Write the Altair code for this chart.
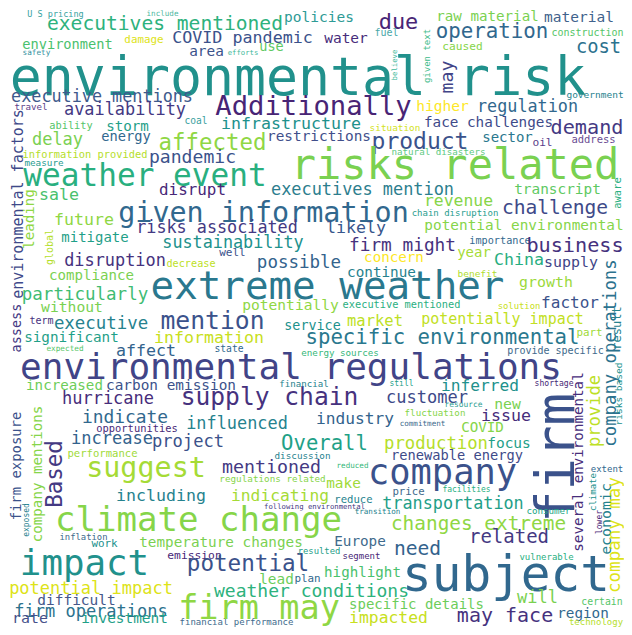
import altair as alt
import pandas as pd

# word, x-centre, y-centre (image pixels), font size, angle, colour
words = [
    "U S pricing", "include", "executives mentioned", "environment", "damage", "safety",
    "COVID pandemic", "area", "environmental risk", "executive mentions", "availability", "travel",
    "environmental factors", "assess", "ability", "storm", "coal", "energy", "delay", "affected",
    "information provided", "pandemic", "policies", "due", "water", "use", "fuel", "efforts",
    "believe", "Additionally", "higher", "infrastructure", "situation", "restrictions", "product",
    "natural disasters", "raw material", "material", "operation", "construction", "cost", "caused",
    "given text", "may", "government", "regulation", "face challenges", "demand", "sector", "oil",
    "address", "risks related", "measure", "weather event", "leading", "sale", "disrupt",
    "given information", "future", "global", "risks associated", "mitigate", "sustainability",
    "disruption", "decrease", "well", "compliance", "particularly", "without", "extreme weather",
    "executive", "mention", "executives mention", "likely", "firm might", "possible", "concern",
    "continue", "potentially", "executive mentioned", "market", "chain disruption", "transcript",
    "aware", "revenue", "challenge", "potential environmental", "importance", "year", "business",
    "China", "supply", "benefit", "growth", "company operations", "result", "risks based", "factor",
    "solution", "potentially impact", "term", "information", "significant", "expected", "affect",
    "environmental regulations", "increased", "carbon emission", "hurricane", "supply chain",
    "indicate", "influenced", "opportunities", "firm exposure", "company mentions", "Based",
    "increase", "project", "performance", "suggest", "service", "specific environmental", "state",
    "energy sources", "financial", "still", "customer", "industry", "fluctuation", "resource",
    "commitment", "Overall", "production", "focus", "renewable energy", "discussion", "mentioned",
    "reduced", "company", "new", "issue", "COVID", "inferred", "provide specific", "part",
    "shortage", "several environmental", "provide", "firm", "extent", "exposed", "including",
    "climate change", "inflation", "work", "temperature changes", "emission", "impact", "potential",
    "potential impact", "difficult", "firm operations", "rate", "investment", "financial performance",
    "firm may", "regulations related", "make", "indicating", "reduce", "price",
    "following environmental", "transition", "transportation", "facilities", "changes extreme",
    "consumer", "related", "need", "Europe", "resulted", "segment", "lead", "plan", "highlight",
    "weather conditions", "specific details", "impacted", "subject", "vulnerable", "will", "certain",
    "may face", "region", "technology", "economic", "climate", "lower", "company may",
]

xs = [
    55.5, 162.5, 165, 67.5, 144, 36.5,
    242.5, 206.5, 298, 102, 125, 31,
    17.5, 17, 71, 127.5, 196, 126, 57.5, 212.5,
    85, 192.5, 319, 398.5, 346, 271.5, 386.5, 243,
    395, 313.5, 442.5, 291, 395, 319, 420,
    438.5, 487.5, 579, 492, 587.5, 598.5, 462.5,
    427, 448, 595, 527.5, 488.5, 587, 507.5, 542.5,
    593.5, 455, 44, 145, 30, 59, 192.5,
    263.5, 84, 50, 217, 95, 233,
    115, 191, 232.5, 91.5, 85, 72, 327.5,
    101, 212.5, 362.5, 356, 402.5, 299, 394,
    381.5, 290.5, 401.5, 375, 455, 557.5,
    618, 458.5, 555, 524, 500, 474, 575,
    519, 571, 477.5, 546, 611, 617, 618.5, 570,
    519, 502.5, 41.5, 209, 71.5, 65, 146,
    291, 64.5, 171, 108, 269.5,
    125, 237, 137, 17, 38, 55,
    112, 188, 102.5, 146, 312.5, 442.5, 229,
    340, 304, 401.5, 427, 355, 435, 463.5,
    422.5, 324.5, 436, 509, 457, 302.5, 271.5,
    352.5, 442.5, 507.5, 506, 482.5, 480, 555.5, 589.5,
    554, 579, 595, 558, 607, 27, 161,
    198.5, 83.5, 104.5, 221, 194.5, 84.5, 248,
    91, 76.5, 91, 30, 124.5, 236.5,
    259, 272.5, 343.5, 280, 353.5, 408.5,
    314.5, 377.5, 453, 466.5, 478.5,
    548.5, 509, 417.5, 360, 319, 361.5, 276.5, 307.5, 362.5,
    311.5, 416.5, 388.5, 506, 546.5, 537.5, 602,
    505, 583, 596, 607, 593, 600, 614.5,
]

ys = [
    14, 14, 24, 45, 40, 53,
    38, 52, 79, 97, 110, 107,
    204, 328, 126, 127, 121, 137, 140, 143,
    155, 158, 18, 22, 39, 47, 33, 53,
    65, 107, 107, 124, 128, 137, 142,
    152, 17, 18, 32, 33, 47, 47,
    56, 77, 95, 107, 123, 128, 138, 143,
    140, 166, 163, 177, 219, 195, 190,
    213, 220, 247, 228, 238, 243,
    261, 264, 253, 276, 295, 308, 287,
    324, 322, 190, 228, 246, 263, 258,
    273, 306, 305, 321, 213, 190,
    193, 201, 208, 226, 241, 253, 246,
    260, 263, 274, 283, 353, 328, 394, 303,
    306, 319, 321, 338, 338, 349, 351,
    368, 386, 386, 399, 398,
    418, 424, 429, 466, 474, 474,
    439, 442, 454, 468, 326, 338, 349,
    353, 384, 384, 398, 419, 413, 405,
    424, 444, 444, 444, 456, 456, 468,
    466, 473, 405, 416, 428, 386, 351, 333,
    384, 462, 411, 458, 469, 520, 496,
    521, 537, 544, 543, 556, 564, 564,
    589, 601, 612, 619, 619, 622,
    609, 479, 484, 496, 500, 492,
    507, 512, 504, 490, 524,
    511, 537, 549, 542, 551, 556, 580, 579, 573,
    592, 605, 618, 576, 557, 598, 602,
    616, 614, 622, 519, 492, 522, 535,
]

sizes = [
    8.5, 7.6, 19.6, 13.7, 10.9, 7.7,
    16.7, 14.4, 53.2, 16.8, 16.9, 9.2,
    15, 13.5, 10.3, 14.2, 9.6, 13.7, 17, 22.4,
    10.4, 18.1, 14.5, 21.9, 14.5, 13.6, 10, 7.3,
    7.3, 27.2, 14.6, 16.6, 9.4, 14.4, 23,
    9.2, 14.2, 14.5, 20.8, 10, 18.8, 11.2,
    9, 18.3, 9.5, 16.8, 14.3, 20.2, 14, 11.2,
    10.5, 42, 9.3, 31.1, 14.2, 16.6, 15.9,
    28.4, 16.6, 10, 16.8, 14, 16.8,
    16.9, 10.2, 11, 14.1, 17.5, 14.7, 39.2,
    17.4, 24.7, 16.9, 16.6, 17.8, 17.5, 14.2,
    14.3, 14.6, 10.3, 15.5, 9, 14.4,
    10.4, 16.4, 19.6, 14.4, 10.2, 14, 20.2,
    16.6, 14.9, 9.5, 14.9, 17.3, 12, 9.5, 16,
    8.9, 15, 10, 16.6, 14.3, 7.7, 16.6,
    36, 14.2, 14.4, 17, 24.6,
    17.9, 16.9, 10.4, 13.9, 14.2, 22.5,
    17, 17.1, 10.6, 28.4, 13.4, 20.7, 9.7,
    9.2, 9.1, 8, 17, 16.2, 9.2, 7.9,
    7.6, 20.6, 17.3, 14.5, 13.7, 9.3, 18.3,
    7.6, 35.4, 14.8, 16.6, 14.2, 16.2, 10, 10.9,
    8.1, 14.2, 17.1, 54, 9, 8, 16.6,
    34.1, 8.9, 10.9, 14.3, 11.3, 35.8, 22.6,
    17, 14.5, 17, 14.9, 14.4, 9,
    33.6, 9.3, 14.4, 16.3, 10.6, 10.7,
    7.3, 7.6, 16.8, 8, 19.4,
    9.2, 19, 19.6, 14.3, 8.9, 9, 14.4, 10.9, 14.2,
    18, 14, 16.4, 49.4, 9, 17, 9.8,
    20, 14.3, 9, 14.9, 9, 8, 17.5,
]

vertical = {
    "environmental factors", "assess", "believe", "given text", "may", "leading", "global",
    "aware", "company operations", "result", "risks based", "firm exposure", "company mentions",
    "Based", "several environmental", "provide", "firm", "exposed", "economic", "climate",
    "lower", "company may",
}
angles = [270 if w in vertical else 0 for w in words]

colors = [
    "#36a2a0", "#4cb8a0", "#2db27d", "#4ac16d", "#dde318", "#3391a0",
    "#3b528b", "#3b528b", "#21918c", "#3e5a8c", "#443983", "#5a3d8a",
    "#3e4989", "#443983", "#54c568", "#1fa088", "#3aa0a0", "#31688e", "#7ad151", "#8fd744",
    "#b5de2b", "#3b528b", "#2e9b96", "#482576", "#472d7b", "#5ec962", "#4aa8a8", "#3cb89a",
    "#3cb89a", "#482475", "#fde725", "#21918c", "#d2e21b", "#414f8b", "#3b528b",
    "#5ec982", "#7ad151", "#40628c", "#31688e", "#54c568", "#2c728e", "#86d549",
    "#3cbb8a", "#414487", "#26828e", "#31688e", "#3e4a89", "#443983", "#2a788e", "#5a3d8a",
    "#6a4c93", "#7ad151", "#2a9d8f", "#29af7f", "#8fd744", "#4ac16d", "#482878",
    "#31688e", "#8fd744", "#b5de2b", "#443983", "#1fa088", "#21918c",
    "#46327e", "#bddf26", "#3b528b", "#7ad151", "#3fbc73", "#7ad151", "#2a788e",
    "#26828e", "#3b528b", "#2c7e8e", "#39568c", "#46327e", "#33638d", "#fde725",
    "#26828e", "#8fd744", "#29af7f", "#bddf26", "#2a9d8f", "#5ec962",
    "#29af7f", "#86d549", "#3e4a89", "#86d549", "#31688e", "#a5db36", "#46327e",
    "#28ae80", "#414487", "#b0dd2f", "#9bd93c", "#2c728e", "#26828e", "#21918c", "#3b528b",
    "#c8e020", "#c2df23", "#46327e", "#c8e020", "#1fa088", "#54c568", "#33638d",
    "#414487", "#6ccd5a", "#3b528b", "#472d7b", "#46327e",
    "#31688e", "#26828e", "#482878", "#3b528b", "#86d549", "#443983",
    "#33638d", "#3b528b", "#a0da39", "#a5db36", "#21918c", "#2a788e", "#31688e",
    "#35b779", "#26828e", "#1fa088", "#3e4a89", "#33638d", "#86d549", "#2a9d8f",
    "#3e6a8c", "#1fa187", "#b5de2b", "#1fa088", "#3e4a89", "#26828e", "#443983",
    "#35b779", "#3b528b", "#7ad151", "#472d7b", "#86d549", "#21918c", "#3e6a8c", "#a0da39",
    "#482878", "#472d7b", "#bddf26", "#3b528b", "#31688e", "#26828e", "#26828e",
    "#86d549", "#3e6a8c", "#21918c", "#7ad151", "#482878", "#21918c", "#3b528b",
    "#dde318", "#46588a", "#2c728e", "#46508a", "#1fa088", "#3e6a8c",
    "#8fd744", "#86d549", "#a0da39", "#a5db36", "#26828e", "#3e6a8c",
    "#443983", "#26828e", "#1fa088", "#29af7f", "#8fd744",
    "#21a685", "#443983", "#33638d", "#3e6a8c", "#1fa088", "#482878", "#6ccd5a", "#31688e", "#4ac16d",
    "#2db27d", "#6ccd5a", "#c8e020", "#31688e", "#29af7f", "#7ad151", "#54c568",
    "#46327e", "#31688e", "#b5de2b", "#26828e", "#21918c", "#482878", "#dde318",
]

df = pd.DataFrame({
    "word": words, "x": xs, "y": ys, "size": sizes, "angle": angles, "color": colors,
})

chart = (
    alt.Chart(df)
    .mark_text(font="DejaVu Sans Mono", align="center", baseline="middle")
    .encode(
        x=alt.X("x:Q", scale=alt.Scale(domain=[8, 624], nice=False, zero=False), axis=None),
        y=alt.Y("y:Q", scale=alt.Scale(domain=[8, 627], nice=False, zero=False, reverse=True), axis=None),
        size=alt.Size("size:Q", scale=None, legend=None),
        angle=alt.Angle("angle:Q", scale=None),
        color=alt.Color("color:N", scale=None, legend=None),
        text="word:N",
    )
    .properties(width=616, height=619, padding=0, autosize="none", background="white")
    .configure_view(stroke=None)
)

chart.save("out.html", embed_options={"renderer": "svg", "actions": False})
